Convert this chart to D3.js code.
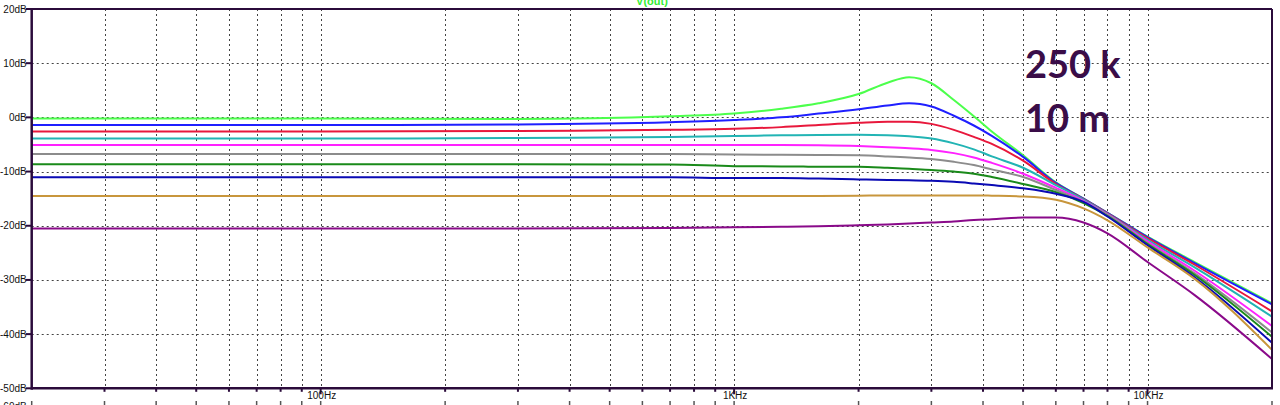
<!DOCTYPE html>
<html>
<head>
<meta charset="utf-8">
<script src="https://cdn.jsdelivr.net/npm/d3@7"></script>
<style>
html,body{margin:0;padding:0;background:#fff;overflow:hidden;}
svg{display:block;}
</style>
</head>
<body>
<svg id="chart" width="1280" height="405"></svg>
<script>
// ---- data ----
const freqs = [20, 100, 300, 700, 1000, 1300, 1600, 2000, 2350, 2650, 3000, 3400, 3800, 4200, 5000, 6000, 7000, 8000, 10000, 13000, 20000];
const seriesGreen   = [-0.2,-0.2,-0.3,0.2,0.7,1.6,2.6,4.3,6.4,7.4,6.3,3.2,0.2,-2.6,-7.0,-12.0,-15.0,-17.6,-22.0,-26.7,-34.3];
const seriesBlue    = [-1.4,-1.4,-1.3,-0.9,-0.5,0.0,0.7,1.5,2.2,2.6,2.0,0.3,-1.5,-3.4,-7.3,-12.1,-15.0,-17.6,-22.1,-26.9,-34.5];
const seriesRed     = [-2.6,-2.6,-2.5,-2.3,-2.1,-1.8,-1.4,-1.0,-0.8,-0.8,-1.2,-2.3,-3.6,-4.9,-8.0,-12.3,-15.1,-17.7,-22.3,-27.2,-35.8];
const seriesCyan    = [-3.9,-3.9,-3.8,-3.6,-3.45,-3.3,-3.25,-3.2,-3.3,-3.5,-3.9,-4.8,-5.9,-7.2,-9.3,-12.5,-15.2,-17.8,-22.6,-27.7,-36.8];
const seriesMagenta = [-5.1,-5.1,-5.1,-5.1,-5.1,-5.1,-5.15,-5.3,-5.5,-5.7,-6.0,-6.6,-7.4,-8.4,-10.4,-13.0,-15.4,-17.9,-22.9,-28.3,-38.5];
const seriesGray    = [-6.75,-6.75,-6.75,-6.75,-6.85,-6.9,-6.95,-7.0,-7.2,-7.4,-7.7,-8.2,-8.8,-9.6,-11.0,-13.4,-15.6,-18.0,-23.2,-28.8,-39.7];
const seriesDkGreen = [-8.65,-8.65,-8.65,-8.7,-9.0,-9.05,-9.1,-9.1,-9.3,-9.5,-9.7,-10.0,-10.4,-11.0,-12.3,-13.8,-15.8,-18.2,-23.4,-29.1,-40.5];
const seriesDkBlue  = [-11.05,-11.05,-11.05,-11.05,-11.2,-11.2,-11.3,-11.45,-11.55,-11.6,-11.7,-11.9,-12.2,-12.5,-13.1,-14.1,-15.6,-18.3,-23.6,-29.5,-41.6];
const seriesOrange  = [-14.5,-14.5,-14.5,-14.5,-14.5,-14.5,-14.5,-14.45,-14.4,-14.4,-14.4,-14.4,-14.4,-14.45,-14.6,-15.2,-16.8,-19.0,-24.0,-29.8,-42.9];
const seriesPurple  = [-20.5,-20.5,-20.5,-20.4,-20.3,-20.2,-20.1,-19.9,-19.75,-19.6,-19.4,-19.2,-18.95,-18.8,-18.5,-18.5,-19.4,-21.4,-26.7,-32.8,-44.6];
const seriesList = [seriesGreen, seriesBlue, seriesRed, seriesCyan, seriesMagenta, seriesGray, seriesDkGreen, seriesDkBlue, seriesOrange, seriesPurple];
const seriesColors = ["#4cff4c","#1f1fff","#e8183c","#22b4b4","#ff22ff","#8c8c8c","#1a8a1a","#0a0ab4","#c8963c","#8a0a8a"];
const yTicks = [20,10,0,-10,-20,-30,-40,-50];
const yTickLabels = ["20dB","10dB","0dB","-10dB","-20dB","-30dB","-40dB","-50dB"];
const xLabelFreqs = [100, 1000, 10000];
const xTickLabels = ["100Hz","1KHz","10KHz"];
const gridFreqs = [30,40,50,60,70,80,90,100,200,300,400,500,600,700,800,900,1000,2000,3000,4000,5000,6000,7000,8000,9000,10000];
const traceName = "V(out)";
const notes = ["250 k","10 m"];

// ---- layout ----
const svg = d3.select("#chart");
const L = 31.7, R = 1272, T = 9, B = 388.3;
const x = d3.scaleLog().domain([20, 20000]).range([L, R]);
const y = d3.scaleLinear().domain([-50, 20]).range([B, T]);
const frame = "#2b0b3b";
const labelFont = "Liberation Sans, Arial, sans-serif";

// grid
const grid = svg.append("g").attr("stroke","#444").attr("stroke-width",1).attr("stroke-dasharray","2,3");
grid.selectAll("line.v").data(gridFreqs).enter().append("line")
  .attr("x1", d => Math.round(x(d))+0.5).attr("x2", d => Math.round(x(d))+0.5)
  .attr("y1", T).attr("y2", B);
grid.selectAll("line.h").data(yTicks.filter(d => d<20 && d>-50)).enter().append("line")
  .attr("x1", L).attr("x2", R)
  .attr("y1", d => Math.round(y(d))+0.5).attr("y2", d => Math.round(y(d))+0.5);

// traces
svg.append("clipPath").attr("id","clip").append("rect").attr("x",L).attr("y",T).attr("width",R-L).attr("height",B-T);
const line = d3.line().x((d,i) => x(freqs[i])).y(d => y(d)).curve(d3.curveMonotoneX);
const traces = svg.append("g").attr("clip-path","url(#clip)");
seriesList.forEach((s,i) => {
  traces.append("path").attr("d", line(s)).attr("fill","none")
    .attr("stroke", seriesColors[i]).attr("stroke-width", 2);
});

// frame
svg.append("line").attr("x1",L).attr("x2",R).attr("y1",T).attr("y2",T).attr("stroke",frame).attr("stroke-width",2);
svg.append("line").attr("x1",R).attr("x2",R).attr("y1",T).attr("y2",B).attr("stroke",frame).attr("stroke-width",2);
svg.append("line").attr("x1",L).attr("x2",L).attr("y1",T-1).attr("y2",B+1.5).attr("stroke",frame).attr("stroke-width",2.5);
svg.append("line").attr("x1",L).attr("x2",R+1).attr("y1",B).attr("y2",B).attr("stroke",frame).attr("stroke-width",2.5);

// y axis ticks + labels
const yAx = svg.append("g");
yAx.selectAll("line").data(yTicks).enter().append("line")
  .attr("x1", L-6).attr("x2", L).attr("y1", d => y(d)).attr("y2", d => y(d))
  .attr("stroke", frame).attr("stroke-width", 2);
yAx.selectAll("text").data(yTicks).enter().append("text")
  .attr("x", L-5).attr("y", d => y(d)+3.5).attr("text-anchor","end")
  .attr("font-family",labelFont).attr("font-size",10)
  .attr("fill","#111").text((d,i) => yTickLabels[i]);
// partially visible lower label (cut by the window edge, as in the reference)
svg.append("text").attr("x", L-5).attr("y", 410).attr("text-anchor","end")
  .attr("font-family",labelFont).attr("font-size",10)
  .attr("fill","#111").text("-60dB");

// x axis ticks + labels
const xAx = svg.append("g");
xAx.selectAll("line").data(gridFreqs).enter().append("line")
  .attr("x1", d => x(d)).attr("x2", d => x(d)).attr("y1", B)
  .attr("y2", d => xLabelFreqs.includes(d) ? B+6 : B+3.5)
  .attr("stroke", frame).attr("stroke-width", 2);
xAx.selectAll("line.b").data(gridFreqs.concat([20,20000])).enter().append("line")
  .attr("x1", d => x(d)).attr("x2", d => x(d)).attr("y1", 401).attr("y2", 405)
  .attr("stroke", "#555").attr("stroke-width", 1.5);
xAx.selectAll("text").data(xLabelFreqs).enter().append("text")
  .attr("x", d => x(d)+1).attr("y", 398.5).attr("text-anchor","middle")
  .attr("font-family",labelFont).attr("font-size",10)
  .attr("fill","#111").text((d,i) => xTickLabels[i]);

// trace title
svg.append("text").attr("x", 652).attr("y", 5).attr("text-anchor","middle")
  .attr("font-family",labelFont).attr("font-size",11).attr("font-weight","bold")
  .attr("fill","#33ee33").text(traceName);

// annotations
svg.selectAll("text.note").data(notes).enter().append("text").attr("class","note")
  .attr("x", 1025).attr("y", (d,i) => 77.5 + i*54)
  .attr("font-family","Lato, sans-serif").attr("font-weight","bold").attr("font-size",38)
  .attr("fill","#3a0d48").text(d => d);
</script>
</body>
</html>
